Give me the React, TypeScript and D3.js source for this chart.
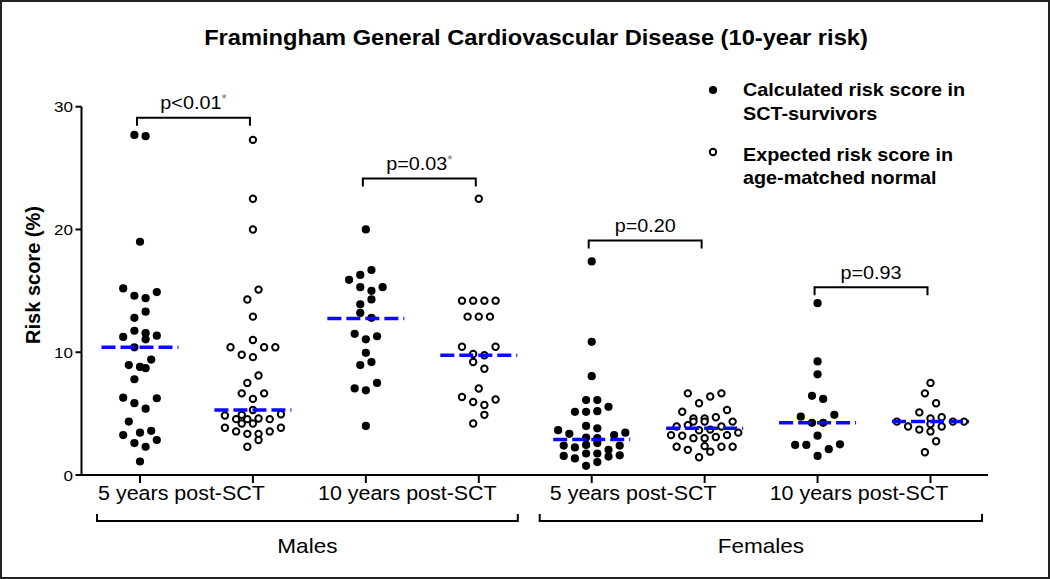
import React from "react";
import * as d3 from "d3";

const W = 1050;
const H = 579;

const title = "Framingham General Cardiovascular Disease (10-year risk)";
const yLabel = "Risk score (%)";
const groupKeys = ["M5c", "M5e", "M10c", "M10e", "F5c", "F5e", "F10c", "F10e"];
const timeLabels = ["5 years post-SCT", "10 years post-SCT", "5 years post-SCT", "10 years post-SCT"];
const sexLabels = ["Males", "Females"];
const yTicks = [0, 10, 20, 30];
const legendLabels = [
  ["Calculated risk score in", "SCT-survivors"],
  ["Expected risk score in", "age-matched normal"],
];

// values (risk score %) and swarm slot (column index as drawn)
const males5Calc = [27.7, 27.6, 19.0, 15.2, 14.6, 14.4, 14.9, 13.3, 12.8, 11.75, 11.55, 11.25, 11.05, 11.35, 10.4, 9.4, 8.95, 8.8, 8.7, 7.8, 6.3, 5.85, 5.4, 6.25, 4.35, 3.6, 3.45, 3.25, 2.85, 2.6, 2.3, 1.1];
const males5CalcSlot = [-1, 1, 0, -3, -1, 1, 3, 1, -1, -1, 1, -3, 1, 3, -1, 2, -2, 0, 1, -1, -3, -1, 1, 3, -2, 2, 0, -3, 3, -1, 1, 0];
const males5Exp = [27.3, 22.5, 20.0, 15.1, 14.3, 12.9, 11.0, 10.4, 10.4, 10.4, 9.8, 9.6, 8.1, 7.5, 6.65, 6.65, 6.2, 5.3, 4.85, 4.55, 4.9, 4.55, 4.6, 4.55, 4.95, 4.2, 4.2, 3.85, 3.55, 3.35, 3.35, 3.55, 3.85, 2.85, 2.3];
const males5ExpSlot = [0, 0, 0, 1, -1, 0, 0, -4, 2, 4, -2, 0, 1, -1, -2, 2, 0, 0, -5, -3, -2, -1, 1, 3, 5, -2, 0, -5, -3, -1, 1, 3, 5, 1, -1];
const males10Calc = [20.0, 16.7, 16.3, 15.9, 15.3, 15.0, 15.3, 14.3, 13.9, 13.2, 12.8, 11.5, 11.05, 11.3, 9.95, 9.2, 8.95, 7.5, 7.05, 6.9, 4.0];
const males10CalcSlot = [0, 1, -1, -3, -1, 1, 3, 1, -1, -1, 1, -2, 0, 2, 0, 1, -1, 2, -2, 0, 0];
const males10Exp = [22.5, 14.2, 14.2, 14.2, 14.2, 12.9, 12.9, 12.9, 10.45, 10.45, 9.85, 9.75, 9.2, 8.65, 7.05, 6.35, 5.95, 6.15, 5.7, 4.9, 4.2];
const males10ExpSlot = [0, -3, -1, 1, 3, -2, 0, 2, -3, 3, -1, 1, -1, 1, 0, -3, -1, 3, 1, 1, -1];
const females5Calc = [17.4, 10.85, 8.05, 6.1, 6.1, 5.15, 5.15, 5.2, 5.55, 4.0, 3.8, 3.65, 3.35, 3.45, 3.25, 3.05, 3.0, 2.4, 2.25, 2.45, 2.6, 2.05, 2.4, 1.55, 1.35, 1.75, 1.75, 1.5, 1.6, 0.75, 1.05];
const females5CalcSlot = [0, 0, 0, -1, 1, -3, -1, 1, 3, -1, 1, -6, -4, 6, 4, -1, 1, -5, -3, -1, 1, 3, 5, -5, -3, -1, 1, 3, 5, -1, 1];
const females5Exp = [6.65, 6.4, 6.65, 5.85, 5.3, 5.15, 4.6, 4.6, 4.35, 4.35, 4.7, 4.35, 3.95, 4.05, 3.95, 3.45, 3.65, 3.7, 3.25, 3.2, 3.0, 3.1, 3.25, 3.0, 2.3, 2.05, 2.35, 1.9, 2.3, 2.3, 1.45];
const females5ExpSlot = [-3, 1, 3, -1, 4, -4, -2, 0, -2, 0, 2, 5, -5, -3, 3, 6, -1, 1, -6, -4, -2, 2, 4, 0, -5, -3, 0, 1, 3, 5, -1];
const females10Calc = [14.0, 9.25, 8.2, 6.45, 6.2, 4.75, 4.9, 4.25, 4.25, 3.2, 2.45, 2.45, 2.5, 2.1, 1.55];
const females10CalcSlot = [0, 0, 0, -1, 1, -3, 3, -1, 1, 0, -4, -2, 4, 2, 0];
const females10Exp = [7.5, 6.65, 5.85, 5.1, 4.6, 4.7, 4.35, 4.35, 4.35, 4.15, 3.95, 3.7, 3.95, 3.55, 2.75, 1.85];
const females10ExpSlot = [0, -1, 1, -2, 0, 2, -6, 4, 6, 0, -4, -2, 2, 0, 1, -1];

const medians = [10.4, 5.3, 12.75, 9.75, 2.9, 3.8, 4.25, 4.35];

const pLabels = ["p<0.01", "p=0.03", "p=0.20", "p=0.93"];
const pStars = [true, true, false, false];
const pLevels = [29.1, 24.15, 19.1, 15.3];

const groupValues = [males5Calc, males5Exp, males10Calc, males10Exp, females5Calc, females5Exp, females10Calc, females10Exp];
const groupSlots = [males5CalcSlot, males5ExpSlot, males10CalcSlot, males10ExpSlot, females5CalcSlot, females5ExpSlot, females10CalcSlot, females10ExpSlot];

const FONT = "'Liberation Sans', Arial, Helvetica, sans-serif";
const SX = 1.1;
const SLOT = 5.6;

function T({ x, y, size, weight = "normal", anchor = "start", children, fill = "#000" }: any) {
  return (
    <text
      transform={`translate(${x},${y}) scale(${SX},1)`}
      fontFamily={FONT}
      fontSize={size}
      fontWeight={weight}
      textAnchor={anchor}
      fill={fill}
    >
      {children}
    </text>
  );
}

export default function App() {
  const x = d3.scalePoint<string>().domain(groupKeys).range([140, 930.5]);
  const y = d3.scaleLinear().domain([0, 30]).range([475, 106.7]);
  const axisX0 = 81.5;
  const axisX1 = 988;
  const y0 = y(0);

  const points: any[] = [];
  groupValues.forEach((vals, gi) => {
    const filled = gi % 2 === 0;
    vals.forEach((v, i) => {
      const cx = (x(groupKeys[gi]) as number) + groupSlots[gi][i] * SLOT;
      const cy = y(v);
      points.push(
        filled ? (
          <circle key={`p${gi}-${i}`} cx={cx} cy={cy} r={4.1} fill="#000" />
        ) : (
          <circle key={`p${gi}-${i}`} cx={cx} cy={cy} r={3.2} fill="#fff" stroke="#000" strokeWidth={2} />
        )
      );
    });
  });

  return (
    <svg width={W} height={H} style={{ position: "absolute", left: 0, top: 0, background: "#fff" }}>
      <rect x={1} y={1} width={W - 2} height={H - 2} fill="#fff" stroke="#222" strokeWidth={2} />
      <T x={536} y={45} size={21.5} weight="bold" anchor="middle">{title}</T>

      {/* y axis */}
      <line x1={axisX0} x2={axisX0} y1={y(30)} y2={y0 + 1} stroke="#000" strokeWidth={2} />
      {yTicks.map((t) => (
        <g key={`yt${t}`}>
          <line x1={axisX0 - 6} x2={axisX0} y1={y(t)} y2={y(t)} stroke="#000" strokeWidth={2} />
          <T x={73} y={y(t) + 5.5} size={15.5} anchor="end">{t}</T>
        </g>
      ))}
      <text
        transform={`translate(40,275) rotate(-90)`}
        fontFamily={FONT}
        fontSize={20}
        fontWeight="bold"
        textAnchor="middle"
      >
        {yLabel}
      </text>

      {/* x axis */}
      <line x1={axisX0 - 1} x2={axisX1} y1={y0} y2={y0} stroke="#000" strokeWidth={2} />
      {groupKeys.map((g) => (
        <line key={`xt${g}`} x1={x(g)} x2={x(g)} y1={y0} y2={y0 + 8} stroke="#000" strokeWidth={2} />
      ))}
      {timeLabels.map((lab, i) => {
        const c = ((x(groupKeys[2 * i]) as number) + (x(groupKeys[2 * i + 1]) as number)) / 2 - 15;
        return (
          <T key={`tl${i}`} x={c} y={500} size={19.5} anchor="middle">{lab}</T>
        );
      })}

      {/* sex brackets */}
      {sexLabels.map((lab, i) => {
        const xa = i === 0 ? (x(groupKeys[0]) as number) - 43 : (x(groupKeys[4]) as number) - 52;
        const xb = i === 0 ? (x(groupKeys[3]) as number) + 39 : (x(groupKeys[7]) as number) + 51.5;
        const by = 521;
        return (
          <g key={`sx${i}`}>
            <path d={`M${xa},${by - 7}V${by}H${xb}V${by - 7}`} fill="none" stroke="#000" strokeWidth={2} />
            <T x={(xa + xb) / 2} y={553} size={20.5} anchor="middle">{lab}</T>
          </g>
        );
      })}

      {/* points */}
      {points}

      {/* medians */}
      {medians.map((m, gi) => {
        const cx = x(groupKeys[gi]) as number;
        return (
          <line
            key={`m${gi}`}
            x1={cx - 38.5}
            x2={cx + 38.5}
            y1={y(m)}
            y2={y(m)}
            stroke="#0a0aff"
            strokeWidth={3.5}
            strokeDasharray="14 5"
          />
        );
      })}

      {/* p-value brackets */}
      {pLabels.map((lab, i) => {
        const xa = (x(groupKeys[2 * i]) as number) - 3;
        const xb = (x(groupKeys[2 * i + 1]) as number) - 3;
        const by = y(pLevels[i]);
        return (
          <g key={`pb${i}`}>
            <path d={`M${xa},${by + 8}V${by}H${xb}V${by + 8}`} fill="none" stroke="#000" strokeWidth={2} />
            <text
              transform={`translate(${(xa + xb) / 2},${by - 8.5}) scale(${SX},1)`}
              fontFamily={FONT}
              fontSize={18}
              textAnchor="middle"
            >
              {lab}
              {pStars[i] ? (
                <tspan fontSize={12} dy={-6} fill="#777">*</tspan>
              ) : null}
            </text>
          </g>
        );
      })}

      {/* legend */}
      <circle cx={713} cy={90} r={4.1} fill="#000" />
      <circle cx={713} cy={152} r={3.2} fill="#fff" stroke="#000" strokeWidth={2} />
      <T x={743} y={96} size={18} weight="bold">{legendLabels[0][0]}</T>
      <T x={743} y={119.5} size={18} weight="bold">{legendLabels[0][1]}</T>
      <T x={743} y={160.5} size={18} weight="bold">{legendLabels[1][0]}</T>
      <T x={743} y={184} size={18} weight="bold">{legendLabels[1][1]}</T>
    </svg>
  );
}
